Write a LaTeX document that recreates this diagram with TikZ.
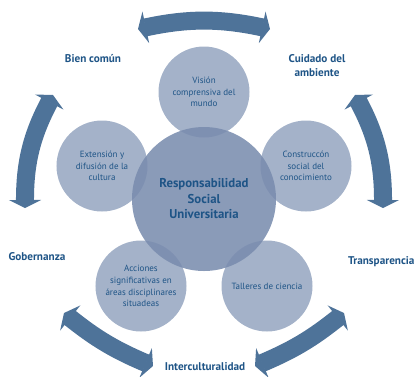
\documentclass[tikz,border=0pt]{standalone}
\usepackage{fontspec}
\setmainfont{PT Sans}
\usepackage{xcolor}
\usetikzlibrary{positioning}
\usetikzlibrary{arrows.meta}
\definecolor{rsutext}{RGB}{30,84,134}
\definecolor{rsuarrow}{RGB}{78,115,153}
\definecolor{rsupetal}{RGB}{164,178,201}
\definecolor{rsuhub}{RGB}{121,140,174}
\tikzstyle{petal} = [circle, minimum size=91pt, inner sep=0pt, fill=rsupetal, text=rsutext, align=center, font=\fontsize{9}{11.8}\selectfont]
\tikzstyle{hub} = [circle, minimum size=144pt, inner sep=0pt, fill=rsuhub, fill opacity=0.87, text opacity=1, text=rsutext, align=center, font=\bfseries\fontsize{12.8}{15.5}\selectfont]
\tikzstyle{theme} = [text=rsutext, align=center, font=\bfseries\fontsize{11.2}{14}\selectfont]
\tikzstyle{ringarrow} = [line width=18pt, draw=rsuarrow, <->, >={Triangle[length=8pt,width=32pt]}]

\begin{document}
\begin{tikzpicture}[node distance=107pt]
        \useasboundingbox (-204pt,-177pt) rectangle (213pt,199pt);
        \coordinate (mid) at (0,0);

        % five themes around the centre
        \node (vision) [petal, above of=mid] {Visi\'on\\comprensiva del\\mundo};
        \node (extension) [petal, left of=mid, xshift=5pt, yshift=33pt] {Extensi\'on y\\difusi\'on de la\\cultura};
        \node (construccion) [petal, right of=mid, xshift=-5pt, yshift=33pt] {Construcc\'on\\social del\\conocimiento};
        \node (acciones) [petal, below of=mid, xshift=-63pt, yshift=20pt] {Acciones\\significativas en\\\'areas disciplinares\\situadeas};
        \node (talleres) [petal, below of=mid, xshift=63pt, yshift=20pt] {Talleres de ciencia};
        \node (rsu) [hub] at (mid) {Responsabilidad\\Social\\Universitaria};

        % outer values
        \node (biencomun) [theme, above of=mid, xshift=-111pt, yshift=33pt] {Bien com\'un};
        \node (cuidado) [theme, above of=mid, xshift=113pt, yshift=26pt] {Cuidado del\\ambiente};
        \node (gobernanza) [theme, left of=mid, xshift=-92pt, yshift=-58pt, anchor=west] {Gobernanza};
        \node (transparencia) [theme, right of=mid, xshift=107pt, yshift=-63pt, anchor=east] {Transparencia};
        \node (intercultura) [theme, below of=mid, xshift=1pt, yshift=-61pt] {Interculturalidad};

        \coordinate (topa) at (-66pt,170pt);
        \coordinate (topb) at (66pt,170pt);
        \coordinate (lefta) at (-151pt,104pt);
        \coordinate (leftb) at (-179pt,-9pt);
        \coordinate (righta) at (151pt,104pt);
        \coordinate (rightb) at (179pt,-9pt);
        \coordinate (lowla) at (-140pt,-114pt);
        \coordinate (lowlb) at (-51pt,-167pt);
        \coordinate (lowra) at (140pt,-114pt);
        \coordinate (lowrb) at (51pt,-167pt);

        \draw [ringarrow] (topa) to[bend left=12] (topb);
        \draw [ringarrow] (leftb) to[bend left=14] (lefta);
        \draw [ringarrow] (righta) to[bend left=14] (rightb);
        \draw [ringarrow] (lowla) to[bend right=8] (lowlb);
        \draw [ringarrow] (lowrb) to[bend right=8] (lowra);
    \end{tikzpicture}
\end{document}
